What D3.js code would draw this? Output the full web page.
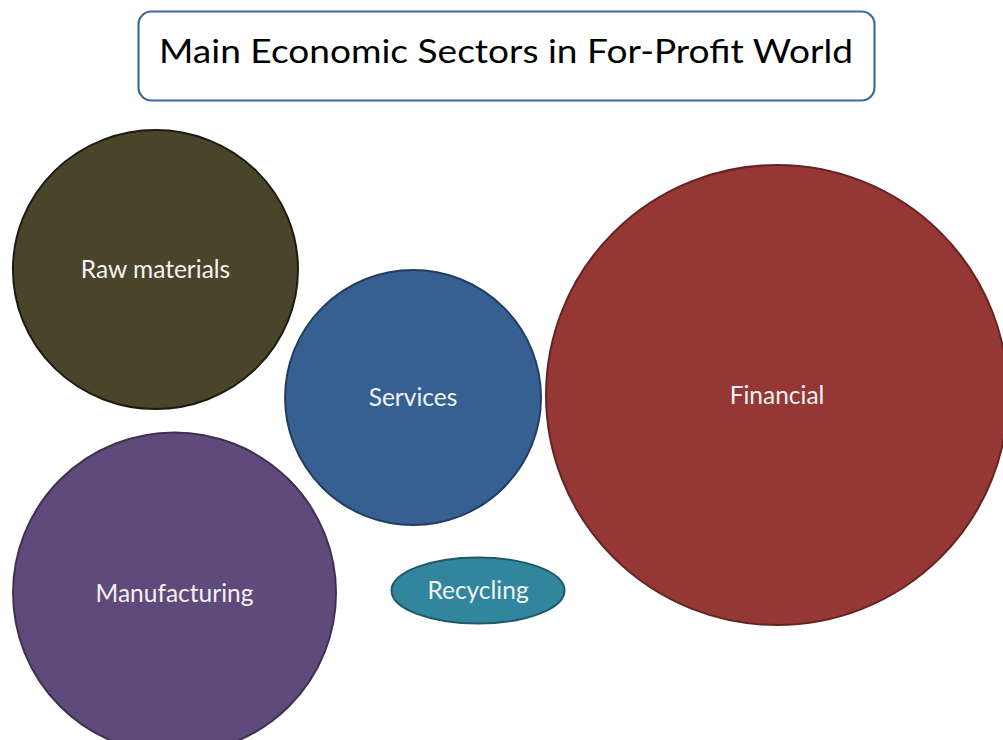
<!DOCTYPE html>
<html>
<head>
<meta charset="utf-8">
<script src="https://cdn.jsdelivr.net/npm/d3@7"></script>
<style>
  html, body { margin: 0; padding: 0; background: #ffffff; }
  svg { display: block; }
</style>
</head>
<body>
<div id="chart"></div>
<script>
// Diagram title
const title = "Main Economic Sectors in For-Profit World";

// Sectors, drawn as ellipses on a 0–100 grid (percent of the canvas)
const sectors = ["Raw materials", "Services", "Financial", "Manufacturing", "Recycling"];
const centerX = [15.5, 41.18, 77.47, 17.4, 47.66];   // % of width
const centerY = [36.42, 53.72, 53.38, 80.14, 79.8];  // % of height
const spanX   = [28.42, 25.52, 46.06, 32.2, 17.25];  // full width, % of width
const spanY   = [37.7, 34.46, 62.16, 43.38, 8.92];   // full height, % of height

const fills   = ["#4a452a", "#366092", "#953735", "#604a7b", "#31859c"];
const strokes = ["#1d1b10", "#223d5e", "#632523", "#3f3151", "#205867"];

const W = 1003, H = 740;
const x = d3.scaleLinear().domain([0, 100]).range([0, W]);
const y = d3.scaleLinear().domain([0, 100]).range([0, H]);
const w = d3.scaleLinear().domain([0, 100]).range([0, W]);
const h = d3.scaleLinear().domain([0, 100]).range([0, H]);

const svg = d3.select("#chart").append("svg")
  .attr("width", W).attr("height", H);

// Title box
const tb = svg.append("g");
tb.append("rect")
  .attr("x", 138.5).attr("y", 11.5)
  .attr("width", 736).attr("height", 89)
  .attr("rx", 13).attr("ry", 13)
  .attr("fill", "#ffffff")
  .attr("stroke", "#41689c")
  .attr("stroke-width", 2.2);
tb.append("text")
  .attr("x", 506).attr("y", 63)
  .attr("text-anchor", "middle")
  .attr("font-family", "Lato, 'Open Sans', sans-serif")
  .attr("font-size", 32)
  .attr("fill", "#000000")
  .attr("textLength", 694)
  .attr("lengthAdjust", "spacingAndGlyphs")
  .text(title);

const rows = sectors.map((name, i) => ({
  name, cx: centerX[i], cy: centerY[i], sx: spanX[i], sy: spanY[i],
  fill: fills[i], stroke: strokes[i]
}));

const g = svg.append("g");
g.selectAll("ellipse")
  .data(rows)
  .join("ellipse")
  .attr("cx", d => x(d.cx))
  .attr("cy", d => y(d.cy))
  .attr("rx", d => w(d.sx) / 2)
  .attr("ry", d => h(d.sy) / 2)
  .attr("fill", d => d.fill)
  .attr("stroke", d => d.stroke)
  .attr("stroke-width", 2);

const fs = 24.5;
g.selectAll("text")
  .data(rows)
  .join("text")
  .attr("x", d => x(d.cx))
  .attr("y", d => y(d.cy) + fs * 0.35)
  .attr("text-anchor", "middle")
  .attr("font-family", "Lato, 'Open Sans', sans-serif")
  .attr("font-size", fs)
  .attr("fill", "#f2f2f2")
  .text(d => d.name);
</script>
</body>
</html>
